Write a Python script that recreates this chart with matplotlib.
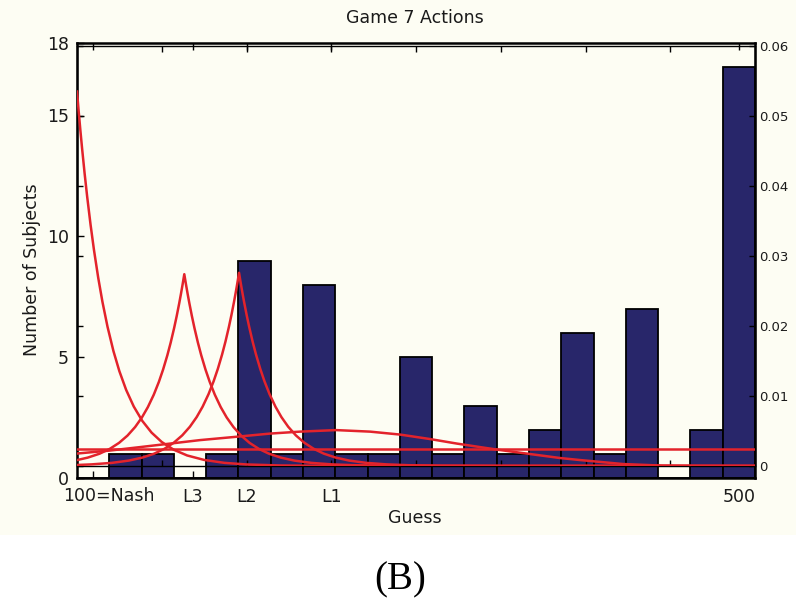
import numpy as np
import matplotlib
matplotlib.use("Agg")
import matplotlib.pyplot as plt
from matplotlib.patches import Rectangle

# ---------------- data ----------------
bin_counts = [0, 1, 1, 0, 1, 9, 1, 8, 1, 1, 5, 1, 3, 1, 2, 6, 1, 7, 0, 2, 17]
guess_min, guess_max = 100, 500

xtick_pos = [109.5, 168.4, 200.3, 250.0, 490.5]
xtick_labels = ["100=Nash", "L3", "L2", "L1", "500"]
left_yticks = [0, 5, 10, 15, 18]
right_yticks = [0, 0.01, 0.02, 0.03, 0.04, 0.05, 0.06]
right_ylabels = ["0", "0.01", "0.02", "0.03", "0.04", "0.05", "0.06"]
grid_xticks = [150, 200, 250, 300, 350, 400, 450]

# model densities
nash_x = [100, 101, 102, 103, 104.5, 106, 108, 110, 112.5, 115, 118, 121.5, 125, 129,
          133.5, 138.5, 144, 150, 157, 165, 175, 187, 200, 220, 250, 500]
nash_d = [0.0535, 0.050639, 0.047932, 0.045370, 0.041781, 0.038478, 0.034472,
          0.030883, 0.026919, 0.023465, 0.019898, 0.016418, 0.013545, 0.010871,
          0.008491, 0.006451, 0.004770, 0.003429, 0.002335, 0.001504, 0.000868,
          0.000449, 0.000220, 0.000073, 0.000014, 0.0]

l3_x = [100.0, 106.3, 113.3, 119.3, 124.8, 129.8, 134.3, 138.3, 141.8, 145.3, 148.3,
        150.8, 153.3, 155.3, 157.3, 158.8, 160.3, 161.3, 162.3, 163.3, 164.3, 165.3,
        166.3, 167.8, 169.3, 171.3, 173.3, 175.8, 178.3, 181.3, 184.8, 188.3, 192.3,
        196.8, 201.8, 207.3, 213.3, 220.3, 228.3, 238.3, 250.3, 263.3, 283.3, 313.3, 500]
l3_d = [0.000846, 0.001196, 0.001756, 0.002443, 0.003304, 0.004349, 0.005568, 0.006937,
        0.008409, 0.010191, 0.012017, 0.013787, 0.015817, 0.017655, 0.019706, 0.021398,
        0.023236, 0.024548, 0.025935, 0.0274, 0.025935, 0.024548, 0.023236, 0.021398,
        0.019706, 0.017655, 0.015817, 0.013787, 0.012017, 0.010191, 0.008409, 0.006937,
        0.005568, 0.004349, 0.003304, 0.002443, 0.001756, 0.001196, 0.000770, 0.000445,
        0.000230, 0.000113, 0.000038, 0.000007, 0.0]

l2_x = [100.0, 108.6, 120.6, 130.6, 138.6, 145.6, 151.6, 157.1, 162.1, 166.6, 170.6,
        174.1, 177.6, 180.6, 183.1, 185.6, 187.6, 189.6, 191.1, 192.6, 193.6, 194.6,
        195.6, 196.6, 197.6, 198.6, 200.1, 201.6, 203.6, 205.6, 208.1, 210.6, 213.6,
        217.1, 220.6, 224.6, 229.1, 234.1, 239.6, 245.6, 252.6, 260.6, 270.6, 282.6,
        295.6, 315.6, 345.6, 500]
l2_d = [0.000144, 0.000232, 0.000448, 0.000776, 0.001204, 0.001769, 0.002461, 0.003328,
        0.004380, 0.005608, 0.006987, 0.008470, 0.010265, 0.012105, 0.013888, 0.015932,
        0.017784, 0.019850, 0.021554, 0.023406, 0.024727, 0.026124, 0.0276, 0.026124,
        0.024727, 0.023406, 0.021554, 0.019850, 0.017784, 0.015932, 0.013888, 0.012105,
        0.010265, 0.008470, 0.006987, 0.005608, 0.004380, 0.003328, 0.002461, 0.001769,
        0.001204, 0.000776, 0.000448, 0.000232, 0.000113, 0.000038, 0.000007, 0.0]

l1_x = [100, 119.5, 137.2, 154.9, 172.6, 192.0, 213.9, 231.6, 252.8, 272.9, 290.6,
        308.3, 324.2, 337.8, 349.6, 367.3, 385.0, 396.8, 422.1, 445.7, 467.6, 500]
l1_d = [0.00178, 0.00221, 0.0027, 0.0032, 0.0037, 0.00413, 0.00463, 0.00491, 0.00513,
        0.00491, 0.00449, 0.00385, 0.0032, 0.0027, 0.00228, 0.00171, 0.00114, 0.00085,
        0.00028, 0.00005, 0.00001, 0.0]

l0_x = [100, 500]
l0_d = [0.0024, 0.0024]

# ---------------- style ----------------
W, H = 796, 601
cream = "#fdfdf3"
navy = "#28266a"
red = "#e3232b"
txt = "#1a1a1a"

fig = plt.figure(figsize=(W / 100, H / 100), dpi=100)
fig.patch.set_facecolor("white")
fig.add_artist(Rectangle((0, 66 / H), 1, 1 - 66 / H, transform=fig.transFigure,
                         facecolor=cream, edgecolor="none", zorder=-10))


def fx(px):
    return px / W


def fy(py):
    return 1 - py / H


ax1 = fig.add_axes([fx(77), fy(478), (755 - 77) / W, (478 - 43) / H])
ax2 = fig.add_axes([fx(77), fy(466), (755 - 77) / W, (466 - 46) / H])
for ax in (ax1, ax2):
    ax.set_facecolor("none")
    ax.set_xlim(guess_min, guess_max)

# bars
edges = np.linspace(guess_min, guess_max, len(bin_counts) + 1)
ax1.bar(edges[:-1], bin_counts, width=np.diff(edges), align="edge",
        color=navy, edgecolor="black", linewidth=1.3, zorder=2)
ax1.set_ylim(0, 18)
ax1.set_yticks(left_yticks)
ax1.set_yticklabels([str(v) for v in left_yticks])
ax1.set_xticks(xtick_pos)
ax1.set_xticklabels([""] + xtick_labels[1:])
ax1.annotate(xtick_labels[0], xy=(xtick_pos[0], 0), xycoords=("data", "axes fraction"),
             xytext=(16, -9), textcoords="offset pixels", ha="center", va="top",
             fontsize=12.5, color=txt)
ax1.tick_params(axis="x", top=True, bottom=True, direction="in", length=5, width=1,
                labelsize=12.5, pad=7, colors="black", labelcolor=txt)
ax1.tick_params(axis="y", left=True, right=False, direction="in", length=5, width=1,
                labelsize=12.5, pad=6, labelcolor=txt)
for s in ax1.spines.values():
    s.set_linewidth(1.8)

# model curves
for xs, ds in [(nash_x, nash_d), (l3_x, l3_d), (l2_x, l2_d), (l1_x, l1_d), (l0_x, l0_d)]:
    ax2.plot(xs, ds, color=red, linewidth=1.8, solid_joinstyle="round", zorder=3)
ax2.set_ylim(0, 0.06)
ax2.set_yticks(right_yticks)
ax2.set_yticklabels(right_ylabels)
ax2.set_xticks(grid_xticks)
ax2.tick_params(axis="x", top=True, bottom=True, labelbottom=False, labeltop=False,
                direction="in", length=4, width=1)
ax2.tick_params(axis="y", left=True, right=True, labelleft=False, labelright=True,
                direction="in", length=4, width=1, labelsize=9.5, pad=3, labelcolor=txt)
for s in ax2.spines.values():
    s.set_linewidth(1.0)

# texts
fig.text(fx(415), fy(18), "Game 7 Actions", ha="center", va="center", fontsize=12.5, color=txt)
fig.text(fx(415), fy(518), "Guess", ha="center", va="center", fontsize=12.5, color=txt)
fig.text(fx(32), fy(270), "Number of Subjects", ha="center", va="center", rotation=90,
         fontsize=12.5, color=txt)
fig.text(fx(400), fy(580), "(B)", ha="center", va="center", fontsize=28,
         family="Liberation Serif", color="black")

fig.savefig("out.png", dpi=100, facecolor=fig.get_facecolor())
